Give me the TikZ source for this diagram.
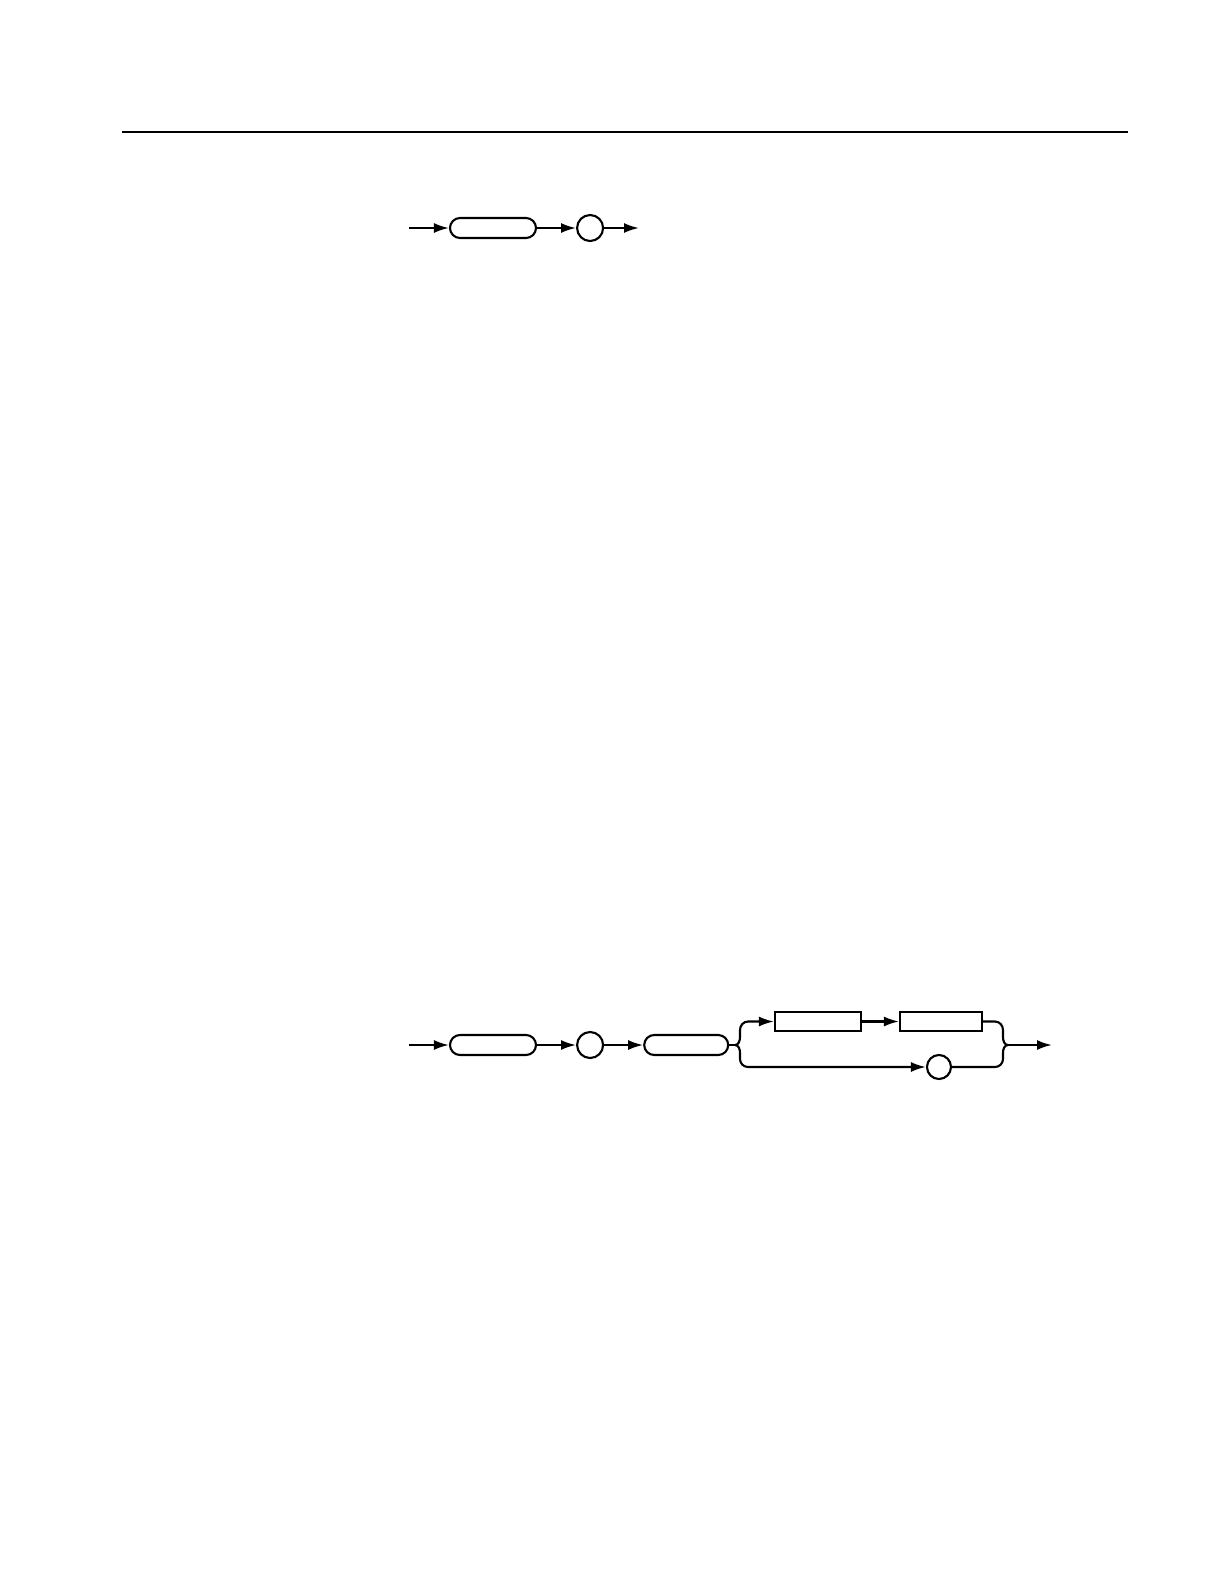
\documentclass[tikz,border=0pt]{standalone}
\usepackage{tikz}
\usetikzlibrary{positioning,arrows.meta}

\begin{document}
\begin{tikzpicture}[
    >={Latex[length=1.5mm,width=1mm]},
    line width=0.6pt,
    term/.style={rectangle, draw, rounded corners=0.1cm, minimum width=0.86cm, minimum height=0.2cm, inner sep=0pt},
    arg/.style={rectangle, draw, minimum width=0.86cm, minimum height=0.19cm, inner sep=0pt},
    sep/.style={circle, draw, minimum size=0.26cm, inner sep=0pt}
]
\useasboundingbox (0,0) rectangle (12.24,-15.84);

% Rule
\coordinate (rl) at (1.22,-1.32);
\coordinate (rr) at (11.28,-1.32);
\draw[line width=0.7pt] (rl) -- (rr);

% First syntax line
\coordinate (s1) at (4.09,-2.28);
\node[term] (hdr1) at (4.93,-2.28) {};
\node[sep, right=0.39cm of hdr1] (q1) {};
\coordinate (e1) at (6.39,-2.28);
\draw[->] (s1) -- (hdr1);
\draw[->] (hdr1) -- (q1);
\draw[->] (q1) -- (e1);

% Second syntax line
\coordinate (s2) at (4.09,-10.45);
\node[term] (hdr2) at (4.93,-10.45) {};
\node[sep, right=0.39cm of hdr2] (q2) {};
\node[term, right=0.39cm of q2, minimum width=0.84cm] (hdr3) {};
\draw[->] (s2) -- (hdr2);
\draw[->] (hdr2) -- (q2);
\draw[->] (q2) -- (hdr3);

% Branches
\node[arg] (argA) at (8.18,-10.215) {};
\node[arg, minimum width=0.82cm] (argB) at (9.41,-10.215) {};
\node[sep, minimum size=0.24cm] (q3) at (9.39,-10.67) {};
\draw[->] (argA) -- (argB);

% Left brace
\coordinate (lb) at (7.35,-10.45);
\draw (hdr3) -- (lb);
\draw[->] (lb) to[out=0,in=-90] (7.40,-10.37) -- (7.40,-10.30)
    to[out=90,in=180] (7.48,-10.215) -- (argA);
\draw[->] (lb) to[out=0,in=90] (7.40,-10.53) -- (7.40,-10.59)
    to[out=-90,in=180] (7.48,-10.67) -- (q3);

% Right brace
\coordinate (rb) at (10.08,-10.45);
\coordinate (e2) at (10.52,-10.45);
\draw (argB) -- (9.95,-10.215) to[out=0,in=90] (10.03,-10.30)
    -- (10.03,-10.37) to[out=-90,in=180] (rb);
\draw (q3) -- (9.95,-10.67) to[out=0,in=-90] (10.03,-10.59)
    -- (10.03,-10.53) to[out=90,in=180] (rb);
\draw[->] (rb) -- (e2);
\end{tikzpicture}
\end{document}
